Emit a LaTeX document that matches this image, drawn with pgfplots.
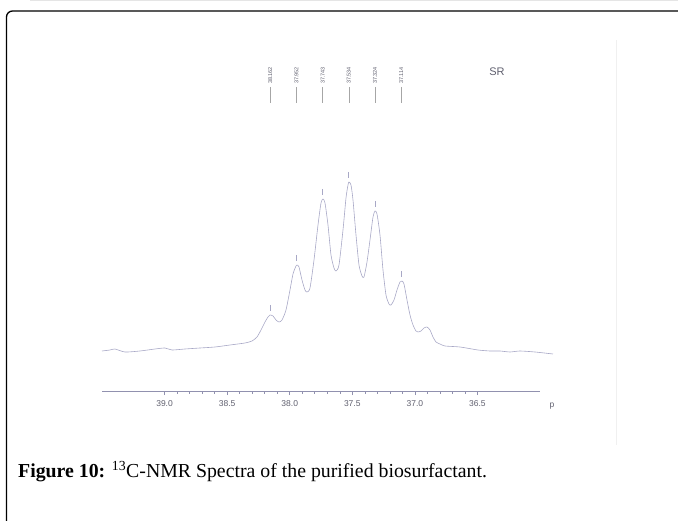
\documentclass[border=0pt]{standalone}
\usepackage{fontspec}
\setmainfont{Liberation Serif}
\newfontfamily\lsans{Liberation Sans}
\usepackage{pgfplots}
\pgfplotsset{compat=1.18}

\definecolor{specc}{RGB}{168,168,198}
\definecolor{axc}{RGB}{145,145,175}
\definecolor{labc}{RGB}{95,95,110}

\begin{document}
\begin{tikzpicture}
\useasboundingbox (0pt,0pt) rectangle (678pt,520pt);
% page frame
\draw[black!10] (30pt,519.3pt) -- (678pt,519.3pt);
\draw[line width=1.3pt, rounded corners=6pt] (700pt,509pt) -- (6.5pt,509pt) -- (6.5pt,-30pt);
\draw[black!6] (616pt,480pt) -- (616pt,75pt);

% spectrum
\begin{axis}[
  at={(102pt,0pt)}, anchor=south west,
  scale only axis, width=451pt, height=520pt,
  xmin=35.9, xmax=39.508, ymin=-170, ymax=350,
  x dir=reverse,
  axis lines=none, clip=false,
]
\addplot[specc, line width=0.6pt, smooth, tension=0.4] coordinates {
(39.508,-1) (39.444,0) (39.404,1) (39.324,-2) (39.204,-1) (39.084,1)
(39.004,2) (38.948,0) (38.844,1) (38.724,2) (38.604,3) (38.484,5)
(38.364,7) (38.308,9) (38.268,13) (38.236,20) (38.204,28) (38.180,33)
(38.164,35) (38.140,34) (38.116,30) (38.092,28) (38.068,30) (38.036,40)
(38.004,60) (37.980,76) (37.956,84) (37.948,85) (37.932,83) (37.908,70)
(37.884,60) (37.868,58) (37.844,62) (37.812,90) (37.780,125) (37.756,147)
(37.740,151) (37.724,147) (37.700,125) (37.676,95) (37.652,82) (37.636,79)
(37.612,85) (37.580,120) (37.556,152) (37.540,165) (37.532,168) (37.516,165)
(37.500,150) (37.476,115) (37.452,85) (37.428,74) (37.412,73) (37.388,88)
(37.364,110) (37.340,133) (37.324,139) (37.308,136) (37.284,115) (37.260,80)
(37.236,55) (37.212,46) (37.196,45) (37.172,50) (37.148,60) (37.124,68)
(37.108,69) (37.092,66) (37.068,50) (37.044,35) (37.020,25) (36.996,19)
(36.980,18) (36.956,19) (36.932,22) (36.908,23) (36.884,20) (36.860,13)
(36.836,8) (36.804,6) (36.764,4) (36.644,3) (36.500,0) (36.404,-1)
(36.324,-1) (36.244,-2) (36.164,-1) (36.044,-2) (35.900,-4)
};
% peak markers
\addplot[specc, only marks, mark=|, mark size=3pt, mark options={line width=0.5pt}] coordinates {
(38.162,42) (37.952,92) (37.743,158) (37.534,175) (37.324,146) (37.114,76)
};
% peak list lines
\addplot[black!35, only marks, mark=|, mark size=8pt, mark options={line width=0.35pt}] coordinates {
(38.162,255) (37.952,255) (37.743,255) (37.534,255) (37.324,255) (37.114,255)
};
\pgfplotsinvokeforeach{38.162,37.952,37.743,37.534,37.324,37.114}{
  \node[rotate=90, anchor=west, inner sep=0pt, text=labc,
        font=\lsans\fontsize{5.5}{6}\selectfont] at (axis cs:#1,266) {#1};
}
\end{axis}

% ppm scale
\begin{axis}[
  at={(102pt,129pt)}, anchor=south west,
  scale only axis, width=438pt, height=10pt,
  xmin=36.0, xmax=39.5, ymin=0, ymax=1,
  x dir=reverse,
  axis x line=bottom, axis y line=none,
  axis line style={axc, line width=0.6pt, -},
  xtick={36.5,37,37.5,38,38.5,39},
  minor x tick num=4,
  tick align=outside,
  major tick length=4pt, minor tick length=2.5pt,
  tick style={axc, line width=0.5pt},
  xticklabel style={text=labc, font=\lsans\fontsize{8.5}{10}\selectfont, yshift=-2pt},
  /pgf/number format/.cd, fixed, fixed zerofill, precision=1, assume math mode=true,
]
\addplot[draw=none] coordinates {(36.0,0) (39.5,0)};
\end{axis}
\node[text=labc, font=\lsans\fontsize{8.5}{10}\selectfont] at (552pt,114pt) {p};
\node[text=labc, font=\lsans\fontsize{11}{12}\selectfont] at (497pt,448pt) {SR};

% caption
\node[anchor=base west, inner sep=0pt, font=\fontsize{19.8}{22}\selectfont] at (18pt,42pt)
  {\textbf{Figure 10:} \textsuperscript{13}C-NMR Spectra of the purified biosurfactant.};
\end{tikzpicture}
\end{document}
